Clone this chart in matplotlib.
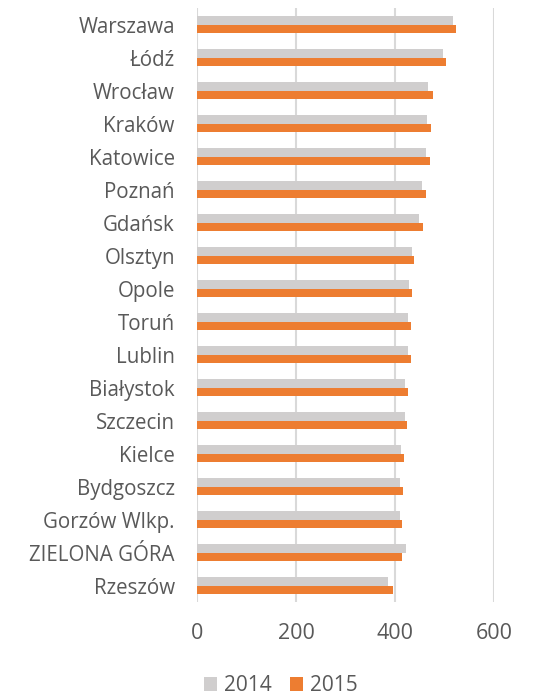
import numpy as np
import matplotlib.pyplot as plt

plt.rcParams['font.family'] = ['Open Sans', 'DejaVu Sans']

# dane
miasta = ['Warszawa', 'Łódź', 'Wrocław', 'Kraków', 'Katowice', 'Poznań',
          'Gdańsk', 'Olsztyn', 'Opole', 'Toruń', 'Lublin', 'Białystok',
          'Szczecin', 'Kielce', 'Bydgoszcz', 'Gorzów Wlkp.', 'ZIELONA GÓRA',
          'Rzeszów']
v2014 = [518, 496, 466, 465, 463, 454, 448, 434, 429, 426, 426, 421,
         420, 412, 411, 410, 423, 385]
v2015 = [523, 502, 476, 472, 470, 463, 457, 439, 434, 432, 432, 427,
         425, 418, 416, 415, 415, 396]
ticks = [0, 200, 400, 600]

fig = plt.figure(figsize=(5.37, 6.96), dpi=100)
ax = fig.add_axes([0.367, 0.135, 0.553, 0.8535])

y = np.arange(len(miasta))
h = 0.26
ax.barh(y - h / 2, v2014, height=h, color='#D0CECE', label='2014', zorder=3)
ax.barh(y + h / 2, v2015, height=h, color='#ED7D31', label='2015', zorder=3)

ax.set_ylim(len(miasta) - 0.5, -0.5)
ax.set_xlim(0, 600)
ax.set_xticks(ticks)
ax.set_yticks(y)
ax.set_yticklabels(miasta)
ax.tick_params(axis='both', length=0, colors='#595959')
ax.tick_params(axis='y', pad=16, labelsize=14.8)
ax.tick_params(axis='x', pad=15, labelsize=15.5)
ax.xaxis.grid(True, color='#D9D9D9', linewidth=1.5, zorder=0)
for s in ax.spines.values():
    s.set_visible(False)

leg = fig.legend(loc='center', bbox_to_anchor=(0.523, 0.0144), ncol=2,
                 frameon=False, fontsize=15, handlelength=0.63,
                 handleheight=0.63, columnspacing=0.87, handletextpad=0.34,
                 labelcolor='#595959')

fig.savefig('out.png', dpi=100)
